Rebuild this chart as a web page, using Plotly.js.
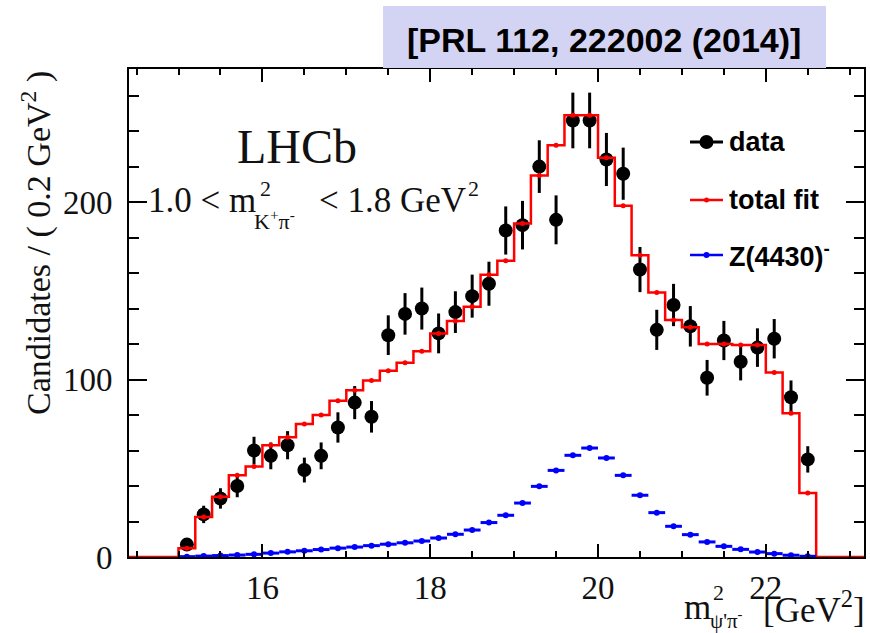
<!DOCTYPE html>
<html>
<head>
<meta charset="utf-8">
<script src="https://cdn.plot.ly/plotly-3.0.1.min.js"></script>
<style>
  html, body { margin: 0; padding: 0; background: #ffffff; }
  #chart { width: 870px; height: 633px; }
</style>
</head>
<body>
<div id="chart"></div>
<script>
// m^2(psi' pi-) bin centres, 0.2 GeV^2 wide bins
const binCenters = [15.1, 15.3, 15.5, 15.7, 15.9, 16.1, 16.3, 16.5, 16.7, 16.9,
                    17.1, 17.3, 17.5, 17.7, 17.9, 18.1, 18.3, 18.5, 18.7, 18.9,
                    19.1, 19.3, 19.5, 19.7, 19.9, 20.1, 20.3, 20.5, 20.7, 20.9,
                    21.1, 21.3, 21.5, 21.7, 21.9, 22.1, 22.3, 22.5];
const binWidth = 0.2;

// Candidates per bin
const dataCounts = [7, 24, 33, 40, 60, 57, 63, 49, 57, 73,
                    87, 79, 125, 137, 140, 126, 138, 147, 154, 184,
                    187, 220, 190, 246, 246, 224, 216, 162, 128, 142,
                    130, 101, 122, 110, 118, 123, 90, 55];

// Total fit, per bin
const totalFit = [5, 22.5, 34, 46, 51, 63, 67.5, 75, 80, 88,
                  94, 99.5, 105, 109.5, 116, 126, 133, 141, 159, 167,
                  188, 215, 232, 249, 249, 225, 198, 170, 149, 133.5,
                  129.5, 120, 120, 119.5, 119.5, 104, 81, 36];

// Z(4430)- component, per bin
const z4430 = [0.2, 0.5, 0.8, 1.1, 1.5, 2.2, 2.9, 3.5, 4.2, 5.0,
               5.6, 6.4, 7.2, 8.0, 9.0, 10.7, 12.8, 15.2, 19.4, 23.5,
               30.4, 39.8, 48.8, 57.3, 61.4, 55.8, 46, 34.8, 25, 17.3,
               12.6, 8.5, 6.0, 4.3, 2.8, 1.9, 1.0, 0.4];

const xRange = [14.41, 23.17];
const yRange = [0, 275];

const SERIF = "'Liberation Serif', 'Times New Roman', Times, serif";
const SANS = "'Liberation Sans', Arial, Helvetica, sans-serif";
const INK = '#111111';
const RED = '#ff0000';
const BLUE = '#0000ff';

// Step outline of the fit histogram: low edges, then the last upper edge
const lowEdges = binCenters.map(c => c - binWidth / 2);
const lastEdge = binCenters[binCenters.length - 1] + binWidth / 2;
const stepX = [xRange[0]].concat(lowEdges, [lastEdge, xRange[1]]);
const stepY = [0].concat(totalFit, [0, 0]);

const traces = [
  {
    type: 'scatter', mode: 'markers', name: 'data',
    x: binCenters, y: dataCounts,
    marker: { color: '#000000', size: 14 },
    error_y: { type: 'data', array: dataCounts.map(Math.sqrt), width: 0, thickness: 3, color: '#000000' },
    showlegend: false
  },
  {
    type: 'scatter', mode: 'lines', name: 'total fit',
    x: stepX, y: stepY,
    line: { shape: 'hv', color: RED, width: 2.5 },
    showlegend: false, hoverinfo: 'skip'
  },
  {
    type: 'scatter', mode: 'markers', name: 'total fit',
    x: binCenters, y: totalFit,
    marker: { color: RED, size: 5 },
    showlegend: false
  },
  {
    type: 'scatter', mode: 'markers', name: 'Z(4430)-',
    x: binCenters, y: z4430,
    marker: { color: BLUE, size: 6 },
    error_x: { type: 'constant', value: binWidth / 2, width: 0, thickness: 3, color: BLUE },
    showlegend: false
  }
];

// Pixel -> paper helpers for the plot frame
const PL = 129, PR = 864, PT = 69, PB = 557;
const fx = X => (X - PL) / (PR - PL);
const fy = Y => (PB - Y) / (PB - PT);

function label(text, X, Y, size, family, xanchor, extra) {
  return Object.assign({
    xref: 'paper', yref: 'paper', x: fx(X), y: fy(Y),
    text: text, showarrow: false, xanchor: xanchor, yanchor: 'middle',
    font: { family: family, size: size, color: INK }
  }, extra || {});
}

const boldFont = size => ({ font: { family: SANS, size: size, color: '#000000' } });

const annotations = [
  // publication reference banner
  label('<b>[PRL 112, 222002 (2014)]</b>', 604, 40, 34, SANS, 'center', boldFont(34)),
  // experiment tag and selection
  label('LHCb', 297, 146, 48, SERIF, 'center'),
  label('1.0 < m', 146, 200, 35, SERIF, 'left'),
  label('2', 258, 188, 22, SERIF, 'left'),
  label('K<sup>+</sup>π<sup>-</sup>', 252, 220, 22, SERIF, 'left'),
  label('< 1.8 GeV', 317, 200, 35, SERIF, 'left'),
  label('2', 466, 188, 22, SERIF, 'left'),
  // axis titles
  Object.assign(label('Candidates / ( 0.2 GeV<sup>2</sup> )', 36, 69, 34, SERIF, 'center'),
                { y: 1, yanchor: 'top', textangle: -90 }),
  label('m', 713, 607, 35, SERIF, 'right'),
  label('2', 711, 592, 22, SERIF, 'left'),
  label("ψ'π<sup>-</sup>", 708, 619, 21, SERIF, 'left'),
  label('[GeV<sup>2</sup>]', 867, 607, 35, SERIF, 'right'),
  // legend entries
  label('<b>data</b>', 727, 142, 27, SANS, 'left', boldFont(27)),
  label('<b>total fit</b>', 727, 200, 27, SANS, 'left', boldFont(27)),
  label('<b>Z(4430)<sup>-</sup></b>', 727, 255, 27, SANS, 'left', boldFont(27))
];

function legendLine(Y, color, width) {
  return { type: 'line', xref: 'paper', yref: 'paper', x0: fx(690), x1: fx(723), y0: fy(Y), y1: fy(Y),
           line: { color: color, width: width } };
}
function legendDot(Y, color, r) {
  return { type: 'circle', xref: 'paper', yref: 'paper', x0: fx(706.5 - r), x1: fx(706.5 + r),
           y0: fy(Y + r), y1: fy(Y - r), fillcolor: color, line: { width: 0 } };
}

const shapes = [
  { type: 'rect', xref: 'paper', yref: 'paper', x0: fx(383), x1: fx(826), y0: fy(68), y1: fy(6),
    fillcolor: '#d3d3f3', line: { width: 0 } },
  legendLine(142, '#000000', 3), legendDot(142, '#000000', 7),
  legendLine(200, RED, 2.5), legendDot(200, RED, 2.5),
  legendLine(255, BLUE, 2.5), legendDot(255, BLUE, 3)
];

const axisCommon = {
  showgrid: false, zeroline: false,
  showline: true, linecolor: '#000000', linewidth: 2, mirror: 'ticks',
  ticks: 'inside', tickwidth: 2, tickcolor: '#000000',
  tickfont: { family: SERIF, size: 33, color: INK }
};

const layout = {
  width: 870, height: 633,
  margin: { l: PL, r: 870 - PR, t: PT, b: 633 - PB, pad: 0 },
  paper_bgcolor: '#ffffff', plot_bgcolor: '#ffffff',
  showlegend: false,
  xaxis: Object.assign({}, axisCommon, {
    range: xRange, tick0: 0, dtick: 2, ticklen: 13, ticklabelstandoff: 0,
    minor: { dtick: 0.5, ticks: 'inside', ticklen: 6, tickwidth: 2, tickcolor: '#000000' }
  }),
  yaxis: Object.assign({}, axisCommon, {
    range: yRange, tick0: 0, dtick: 100, ticklen: 18, ticklabelstandoff: 8,
    minor: { dtick: 20, ticks: 'inside', ticklen: 10, tickwidth: 2, tickcolor: '#000000' }
  }),
  annotations: annotations,
  shapes: shapes
};

Plotly.newPlot('chart', traces, layout, { staticPlot: true, displayModeBar: false });
</script>
</body>
</html>
